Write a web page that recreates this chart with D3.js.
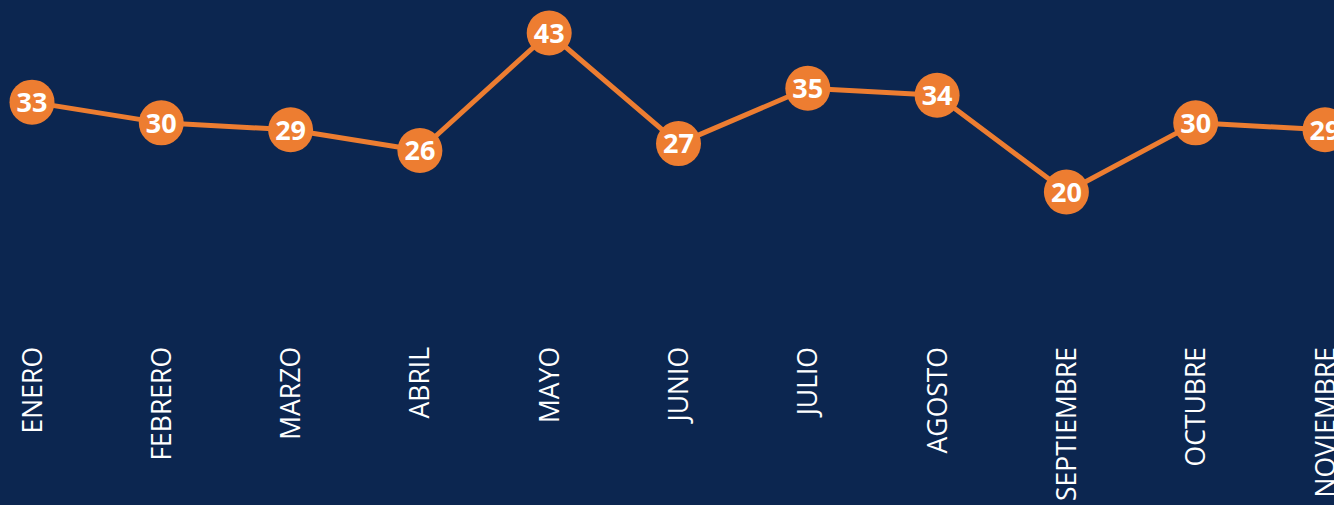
<!DOCTYPE html>
<html>
<head>
<meta charset="utf-8">
<script src="https://cdn.jsdelivr.net/npm/d3@7"></script>
<style>
  html, body { margin: 0; padding: 0; background: #0c2650; }
  svg { display: block; }
</style>
</head>
<body>
<svg id="chart"></svg>
<script>
const months = ["ENERO", "FEBRERO", "MARZO", "ABRIL", "MAYO", "JUNIO", "JULIO", "AGOSTO", "SEPTIEMBRE", "OCTUBRE", "NOVIEMBRE"];
const values = [33, 30, 29, 26, 43, 27, 35, 34, 20, 30, 29];

const W = 1334, H = 505;
const ORANGE = "#ed7d31";

const svg = d3.select("#chart").attr("width", W).attr("height", H);

svg.append("rect").attr("width", W).attr("height", H).attr("fill", "#0c2650");

const x = d3.scalePoint().domain(months).range([32, 1325]);
const y = d3.scaleLinear().domain([20, 43]).range([192, 33]);

const data = months.map((m, i) => ({ m, v: values[i] }));

svg.append("path")
  .datum(data)
  .attr("fill", "none")
  .attr("stroke", ORANGE)
  .attr("stroke-width", 5)
  .attr("stroke-linejoin", "round")
  .attr("d", d3.line().x(d => x(d.m)).y(d => y(d.v)));

const pts = svg.append("g").selectAll("g")
  .data(data)
  .join("g")
  .attr("transform", d => `translate(${x(d.m)},${y(d.v)})`);

pts.append("circle")
  .attr("r", 22.5)
  .attr("fill", ORANGE);

pts.append("text")
  .attr("text-anchor", "middle")
  .attr("dy", "0.36em")
  .attr("fill", "#fff")
  .attr("font-family", "'Open Sans', sans-serif")
  .attr("font-weight", 700)
  .attr("font-size", 27)
  .text(d => d.v);

// month labels, rotated
svg.append("g").selectAll("text")
  .data(months)
  .join("text")
  .attr("transform", d => `translate(${x(d)},347) rotate(-90)`)
  .attr("text-anchor", "end")
  .attr("dy", "0.36em")
  .attr("fill", "#fff")
  .attr("font-family", "'Open Sans', sans-serif")
  .attr("font-size", 26.5)
  .text(d => d);
</script>
</body>
</html>
